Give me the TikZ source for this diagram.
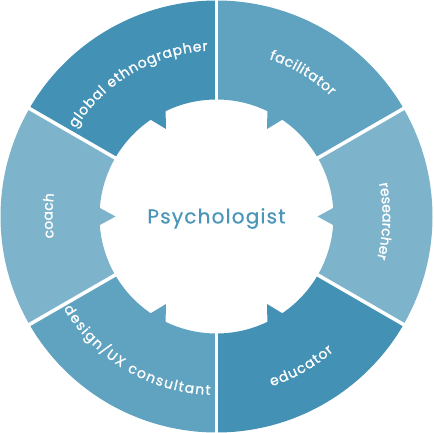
\documentclass[tikz,border=0pt]{standalone}
\usepackage{fontspec}
\setmainfont{Poppins}
\newfontfamily\psyfont[LetterSpace=6,FakeBold=0.6]{Poppins}
\newfontfamily\lblfont[FakeBold=1]{Poppins}
\usetikzlibrary{decorations.text}
\definecolor{segdark}{HTML}{4391B4}
\definecolor{segmid}{HTML}{60A3C1}
\definecolor{seglight}{HTML}{7DB4CC}
\definecolor{psyteal}{HTML}{4B96B8}
\tikzset{
  gapline/.style={draw=white,line width=3.5pt},
  toplabel/.style={decorate,decoration={text along path,text={|\fontsize{14}{14}\lblfont|#1},text align=fit to path,text color=white}},
}
\newcommand{\segment}[3]{% start angle, end angle, colour
  \pgfmathsetmacro{\mida}{(#1+#2)/2}
  \pgfmathsetmacro{\nl}{\mida-4.2}
  \pgfmathsetmacro{\nr}{\mida+4.2}
  \fill[#3] (#1:216) arc[start angle=#1,end angle=#2,radius=216]
    -- (#2:117) arc[start angle=#2,end angle=\nr,radius=117]
    -- (\mida:101) -- (\nl:117) arc[start angle=\nl,end angle=#1,radius=117] -- cycle;
}
\begin{document}
\begin{tikzpicture}[x=1pt,y=1pt]
\useasboundingbox (-216.5,-216.5) rectangle (216.5,216.5);
\segment{30}{90}{segmid}
\segment{90}{150}{segdark}
\segment{150}{210}{seglight}
\segment{210}{270}{segmid}
\segment{270}{330}{segdark}
\segment{330}{390}{seglight}
\foreach \a in {30,90,150,210,270,330}{
  \draw[gapline] (\a:100) -- (\a:218);
}
\node[text=psyteal,font=\fontsize{20}{20}\psyfont] (psy) at (0,-2) {Psychologist};
\path[toplabel={global ethnographer}] (148:166) arc[start angle=148,end angle=93,radius=166];
\path[toplabel={facilitator}] (71.5:166) arc[start angle=71.5,end angle=46.5,radius=166];
\path[toplabel={researcher}] (11.5:166) arc[start angle=11.5,end angle=-14.5,radius=166];
\path[toplabel={coach}] (187.5:164) arc[start angle=187.5,end angle=173.5,radius=164];
\path[toplabel={design/UX consultant}] (211:178.5) arc[start angle=211,end angle=268,radius=178.5];
\path[toplabel={educator}] (-72:178.5) arc[start angle=-72,end angle=-49,radius=178.5];
\end{tikzpicture}
\end{document}
